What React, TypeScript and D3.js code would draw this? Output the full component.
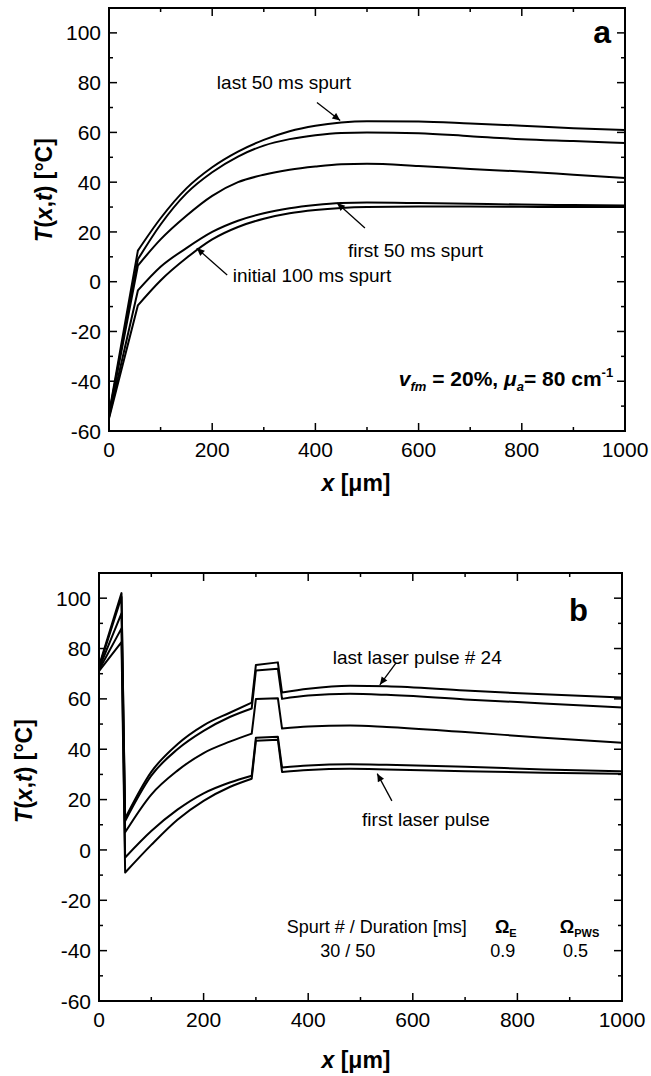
import React from 'react'
import * as d3 from 'd3'

const FONT = '"Liberation Sans", Arial, Helvetica, sans-serif'

// panel a: depth profiles T(x) after cryogen spurts
const xA = [0, 56, 100, 150, 200, 250, 300, 350, 400, 450, 500, 600, 700, 800, 900, 1000]
const lastSpurtA = [-53, 12.5, 25.5, 37.5, 46, 52.3, 57, 60.5, 62.7, 64, 64.5, 64.4, 63.6, 62.7, 61.7, 61]
const spurt2A = [-53.5, 9, 23, 35.5, 44, 50.3, 54.7, 57.3, 58.9, 59.8, 60, 59.7, 58.5, 57.3, 56.5, 55.7]
const spurt3A = [-54, 6.5, 17, 26.5, 34.5, 40, 43, 45, 46.3, 47.2, 47.4, 46.5, 45.3, 44.3, 43, 41.7]
const firstSpurtA = [-54.5, -3.5, 6, 13.5, 20, 24.5, 27.5, 29.5, 30.8, 31.6, 31.8, 31.6, 31.3, 31, 30.8, 30.6]
const initialSpurtA = [-55, -9.5, 0.5, 9.5, 17, 22, 25.3, 27.5, 28.8, 29.6, 30, 30.2, 30.2, 30.1, 30, 30]

// panel b: depth profiles T(x) after laser pulses
const xB = [0, 43, 50, 100, 150, 200, 250, 292, 300, 342, 350, 400, 480, 550, 700, 850, 1000]
const lastPulseB = [73, 102, 12.5, 31, 42, 49.5, 54.5, 58.5, 73.5, 74.5, 62.5, 64, 65.2, 65, 63.3, 61.8, 60.5]
const pulse2B = [72.5, 100.5, 11.5, 29.5, 40, 47.3, 52.8, 56.2, 71.3, 72, 60, 61.3, 62, 61.6, 59.8, 58.2, 56.6]
const pulse3B = [72, 94, 7, 22, 31.5, 38.5, 43, 46.2, 60, 60.3, 48.2, 49, 49.4, 48.8, 46.8, 44.6, 42.6]
const pulse4B = [71.5, 88, -3, 7.5, 16, 22.5, 26.8, 29.5, 44.6, 45, 32.7, 33.5, 34, 33.8, 33, 32, 31.2]
const firstPulseB = [71, 82.5, -9, 2, 12, 19.5, 25, 28.3, 43.4, 43.8, 31, 31.8, 32.2, 32, 31.3, 30.7, 30.2]

const yTicks = [-60, -40, -20, 0, 20, 40, 60, 80, 100]
const yMinor = [-50, -30, -10, 10, 30, 50, 70, 90]
const xTicks = [0, 200, 400, 600, 800, 1000]
const xMinor = [100, 300, 500, 700, 900]

// split a curve at kink indices, smooth pieces get monotone interpolation
function curvePath(xs: number[], ys: number[], x: any, y: any, cuts: number[], smooth: boolean[]) {
  const pts: [number, number][] = xs.map((v, i) => [x(v), y(ys[i])])
  const bounds = [0, ...cuts, pts.length - 1]
  let d = ''
  for (let k = 0; k < bounds.length - 1; k++) {
    const seg = pts.slice(bounds[k], bounds[k + 1] + 1)
    const gen = d3.line().curve(smooth[k] ? d3.curveMonotoneX : d3.curveLinear)
    d += gen(seg)
  }
  return d
}

function Axes({ x, y }: { x: any; y: any }) {
  const [x0, x1] = x.range()
  const [y0, y1] = y.range()
  const major = 8
  const minor = 4
  return (
    <g>
      {yTicks.map(t => (
        <g key={'y' + t}>
          <line x1={x0} x2={x0 + major} y1={y(t)} y2={y(t)} stroke="#000" strokeWidth={1.5} />
          <line x1={x1} x2={x1 - major} y1={y(t)} y2={y(t)} stroke="#000" strokeWidth={1.5} />
          <text x={x0 - 8} y={y(t)} dy="0.36em" textAnchor="end" fontSize={21}>{t}</text>
        </g>
      ))}
      {yMinor.map(t => (
        <g key={'ym' + t}>
          <line x1={x0} x2={x0 + minor} y1={y(t)} y2={y(t)} stroke="#000" strokeWidth={1.5} />
          <line x1={x1} x2={x1 - minor} y1={y(t)} y2={y(t)} stroke="#000" strokeWidth={1.5} />
        </g>
      ))}
      {xTicks.map(t => (
        <g key={'x' + t}>
          <line x1={x(t)} x2={x(t)} y1={y0} y2={y0 - major} stroke="#000" strokeWidth={1.5} />
          <line x1={x(t)} x2={x(t)} y1={y1} y2={y1 + major} stroke="#000" strokeWidth={1.5} />
          <text x={x(t)} y={y0 + 26} textAnchor="middle" fontSize={21}>{t}</text>
        </g>
      ))}
      {xMinor.map(t => (
        <g key={'xm' + t}>
          <line x1={x(t)} x2={x(t)} y1={y0} y2={y0 - minor} stroke="#000" strokeWidth={1.5} />
          <line x1={x(t)} x2={x(t)} y1={y1} y2={y1 + minor} stroke="#000" strokeWidth={1.5} />
        </g>
      ))}
      <rect x={x0} y={y1} width={x1 - x0} height={y0 - y1} fill="none" stroke="#000" strokeWidth={2} />
    </g>
  )
}

function YTitle({ cx, cy }: { cx: number; cy: number }) {
  return (
    <text transform={`translate(${cx},${cy}) rotate(-90)`} textAnchor="middle" fontSize={23} fontWeight="bold">
      <tspan fontStyle="italic">T</tspan>(<tspan fontStyle="italic">x</tspan>,<tspan fontStyle="italic">t</tspan>) [°C]
    </text>
  )
}

function XTitle({ cx, cy }: { cx: number; cy: number }) {
  return (
    <text x={cx} y={cy} textAnchor="middle" fontSize={23} fontWeight="bold">
      <tspan fontStyle="italic">x</tspan> [μm]
    </text>
  )
}

export default function App() {
  const xa = d3.scaleLinear().domain([0, 1000]).range([109, 625])
  const ya = d3.scaleLinear().domain([-60, 110]).range([431, 8])
  const xb = d3.scaleLinear().domain([0, 1000]).range([99, 622])
  const yb = d3.scaleLinear().domain([-60, 110]).range([1001, 573])

  const seriesA = [lastSpurtA, spurt2A, spurt3A, firstSpurtA, initialSpurtA]
  const seriesB = [lastPulseB, pulse2B, pulse3B, pulse4B, firstPulseB]

  const arrow = (xs: any, ys: any, a: number[], b: number[]) => (
    <line x1={xs(a[0])} y1={ys(a[1])} x2={xs(b[0])} y2={ys(b[1])} stroke="#000" strokeWidth={1.3} markerEnd="url(#head)" />
  )

  return (
    <svg width={651} height={1076} style={{ position: 'absolute', left: 0, top: 0, background: '#fff' }} fontFamily={FONT}>
      <defs>
        <marker id="head" viewBox="0 0 10 10" refX={10} refY={5} markerWidth={7} markerHeight={6} orient="auto">
          <path d="M0,0.5 L10,5 L0,9.5 z" fill="#000" />
        </marker>
      </defs>
      <rect width={651} height={1076} fill="#fff" />

      {/* panel a */}
      <Axes x={xa} y={ya} />
      {seriesA.map((s, i) => (
        <path key={'a' + i} d={curvePath(xA, s, xa, ya, [1], [false, true])} fill="none" stroke="#000" strokeWidth={2} strokeLinejoin="round" strokeLinecap="round" />
      ))}
      <text x={xa(973)} y={ya(96)} textAnchor="end" fontSize={32} fontWeight="bold">a</text>
      <text x={xa(209)} y={ya(77.5)} fontSize={19}>last 50 ms spurt</text>
      {arrow(xa, ya, [403, 72], [448, 64.8])}
      <text x={xa(463)} y={ya(9.9)} fontSize={19}>first 50 ms spurt</text>
      {arrow(xa, ya, [496, 21.6], [442, 31.6])}
      <text x={xa(240)} y={ya(-0.1)} fontSize={19}>initial 100 ms spurt</text>
      {arrow(xa, ya, [229, 2.7], [170, 13.5])}
      <text x={xa(977)} y={ya(-42)} textAnchor="end" fontSize={21} fontWeight="bold">
        <tspan fontStyle="italic">v</tspan>
        <tspan fontStyle="italic" fontSize={13} dy={5}>fm</tspan>
        <tspan dy={-5}> = 20%, </tspan>
        <tspan fontStyle="italic">μ</tspan>
        <tspan fontStyle="italic" fontSize={13} dy={5}>a</tspan>
        <tspan dy={-5}>= 80 cm</tspan>
        <tspan fontSize={13} dy={-9}>-1</tspan>
      </text>
      <YTitle cx={52} cy={190} />
      <XTitle cx={356} cy={491} />

      {/* panel b */}
      <Axes x={xb} y={yb} />
      {seriesB.map((s, i) => (
        <path key={'b' + i} d={curvePath(xB, s, xb, yb, [2, 7, 10], [false, true, false, true])} fill="none" stroke="#000" strokeWidth={2} strokeLinejoin="round" strokeLinecap="round" />
      ))}
      <text x={xb(935)} y={yb(91)} textAnchor="end" fontSize={31} fontWeight="bold">b</text>
      <text x={xb(447)} y={yb(74)} fontSize={19}>last laser pulse # 24</text>
      {arrow(xb, yb, [568, 74.3], [537, 65.6])}
      <text x={xb(503)} y={yb(9.6)} fontSize={19}>first laser pulse</text>
      {arrow(xb, yb, [560, 19.5], [532, 30.3])}
      <text x={xb(359)} y={yb(-33)} fontSize={18}>Spurt # / Duration [ms]</text>
      <text x={xb(423)} y={yb(-42.6)} fontSize={18}>30 / 50</text>
      <text x={xb(757)} y={yb(-33)} fontSize={18} fontWeight="bold">
        Ω<tspan fontSize={11} dy={4}>E</tspan>
      </text>
      <text x={xb(748)} y={yb(-42.6)} fontSize={18}>0.9</text>
      <text x={xb(881)} y={yb(-33)} fontSize={18} fontWeight="bold">
        Ω<tspan fontSize={11} dy={4}>PWS</tspan>
      </text>
      <text x={xb(887)} y={yb(-42.6)} fontSize={18}>0.5</text>
      <YTitle cx={32} cy={771} />
      <XTitle cx={356} cy={1068} />
    </svg>
  )
}
